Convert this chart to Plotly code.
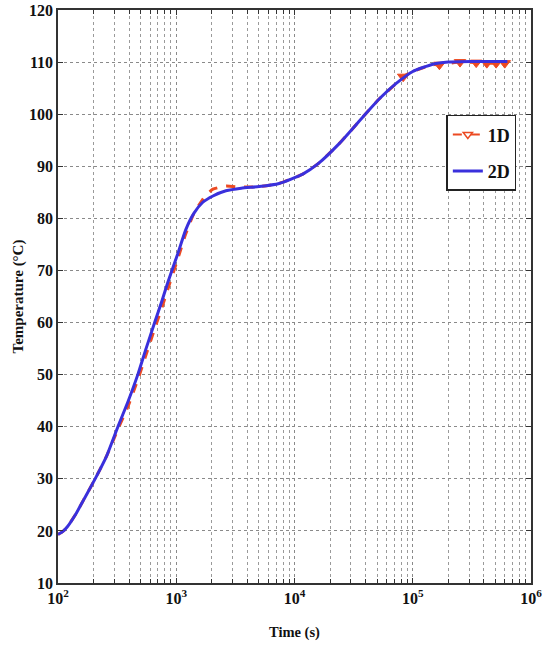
import plotly.graph_objects as go

# ---- data ----
time_2d = [100, 110, 120, 142, 166, 204, 257, 321, 389, 473, 550, 661, 760, 851, 1023,
           1202, 1413, 1660, 2042, 2630, 3548, 5012, 7413, 11750, 15850, 23990, 38020,
           52480, 72440, 100000, 147900, 199500, 316200, 631000]
temp_2d = [19.3, 19.9, 20.8, 23.3, 26.1, 29.8, 34.3, 40.0, 44.7, 50.0, 54.7, 60.2, 64.3,
           67.8, 73.0, 77.8, 81.0, 83.0, 84.3, 85.3, 85.8, 86.1, 86.7, 88.5, 90.5, 94.4,
           99.5, 103.0, 105.9, 108.2, 109.6, 110.0, 110.1, 110.1]

time_1d = [100, 110, 120, 142, 166, 204, 257, 321, 389, 473, 550, 661, 760, 851, 1023,
           1202, 1413, 1660, 1800, 2042, 2630, 3548, 5012, 7413, 11750, 15850, 23990,
           38020, 52480, 72440, 83000, 100000, 147900, 168000, 251000, 344000, 423000,
           507000, 600000]
temp_1d = [19.3, 19.9, 20.8, 23.3, 26.1, 29.8, 34.3, 39.5, 43.8, 49.0, 53.5, 59.0, 63.0,
           66.5, 72.0, 77.0, 81.0, 83.5, 84.5, 85.6, 86.2, 86.0, 86.1, 86.7, 88.5, 90.5,
           94.4, 99.5, 103.0, 105.9, 107.2, 108.2, 109.5, 109.5, 110.0, 109.9, 109.8,
           109.8, 109.8]

marker_time = [83000, 168000, 251000, 344000, 423000, 507000, 600000]
marker_temp = [107.2, 109.5, 110.0, 109.9, 109.8, 109.8, 109.8]

x_tickvals = [100, 1000, 10000, 100000, 1000000]
x_ticktext = ["10<sup>2</sup>", "10<sup>3</sup>", "10<sup>4</sup>", "10<sup>5</sup>", "10<sup>6</sup>"]
y_tickvals = [10, 20, 30, 40, 50, 60, 70, 80, 90, 100, 110, 120]

minor_x = [m * 10 ** e for e in range(2, 6) for m in range(2, 10)]

RED = "#ec4a22"
BLUE = "#3a30dc"
FONT = "Liberation Serif"

fig = go.Figure()

fig.add_trace(go.Scatter(x=time_1d, y=temp_1d, mode="lines",
                         line=dict(color=RED, width=3, dash="dash", shape="spline", smoothing=0.5),
                         showlegend=False, hoverinfo="skip"))
fig.add_trace(go.Scatter(x=marker_time, y=marker_temp, mode="markers",
                         marker=dict(symbol="triangle-down", size=10, color=RED,
                                     line=dict(color=RED, width=1)),
                         showlegend=False))
fig.add_trace(go.Scatter(x=time_2d, y=temp_2d, mode="lines",
                         line=dict(color=BLUE, width=3, shape="spline", smoothing=0.5),
                         name="2D", legendgroup="b", legendrank=2))
fig.add_trace(go.Scatter(x=[None], y=[None], mode="lines+markers",
                         line=dict(color=RED, width=2, dash="dash"),
                         marker=dict(symbol="triangle-down-open", size=8, color=RED,
                                     line=dict(color=RED, width=1.5)),
                         name="1D", legendgroup="a", legendrank=1))

axis_common = dict(showline=True, linecolor="#333", linewidth=1.5, mirror="ticks",
                   ticks="inside", tickcolor="#333", ticklen=5, showgrid=True,
                   gridcolor="#8a8a8a", griddash="dot", gridwidth=1, zeroline=False,
                   automargin=False,
                   tickfont=dict(family=FONT, size=16, color="#111", weight="bold"))

fig.update_xaxes(type="log", range=[2, 6], tickvals=x_tickvals, ticktext=x_ticktext,
                 minor=dict(tickvals=minor_x, ticks="inside", ticklen=4, tickcolor="#333",
                            showgrid=True, gridcolor="#9a9a9a", griddash="dot", gridwidth=1),
                 title=dict(text="Time (s)", font=dict(family=FONT, size=14.5, color="#111", weight="bold"),
                            standoff=21),
                 **axis_common)
fig.update_yaxes(range=[10, 120], tickvals=y_tickvals,
                 title=dict(text="Temperature (°C)", font=dict(family=FONT, size=15, color="#111", weight="bold"),
                            standoff=2),
                 **axis_common)

fig.update_layout(
    width=544, height=648,
    margin=dict(l=58, r=13, t=10, b=65),
    plot_bgcolor="white", paper_bgcolor="white",
    legend=dict(x=0.821, y=0.817, xanchor="left", yanchor="top",
                bordercolor="#222", borderwidth=1.5, bgcolor="white",
                font=dict(family=FONT, size=18, color="#111", weight="bold"),
                itemwidth=30, traceorder="grouped", tracegroupgap=10),
)

fig.write_html("out.html", config={"displayModeBar": False},
               post_script="document.body.style.margin='0px';")
